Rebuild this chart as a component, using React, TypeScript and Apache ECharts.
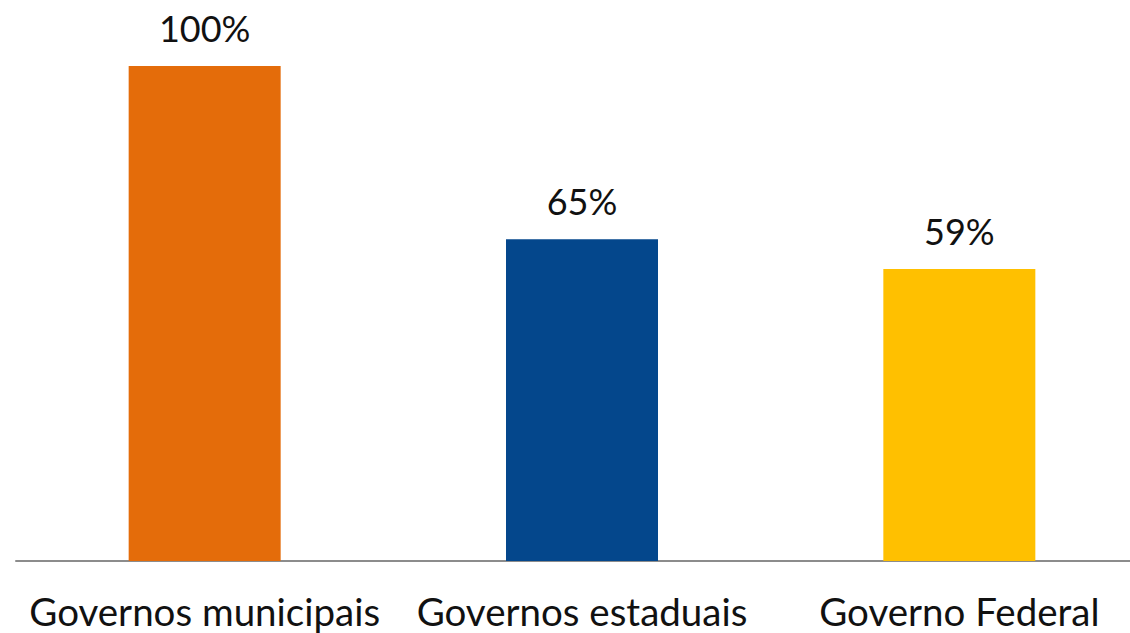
import React, { useEffect, useRef } from "react";
import * as echarts from "echarts";

const categories = ["Governos municipais", "Governos estaduais", "Governo Federal"];
const values = [100, 65, 59];
const colors = ["#E46C0A", "#04478C", "#FFC000"];

export default function App() {
  const ref = useRef<HTMLDivElement>(null);
  useEffect(() => {
    const chart = echarts.init(ref.current!, null, { renderer: "svg" });
    chart.setOption({
      animation: false,
      grid: { left: 16, top: 66, right: 2, bottom: 72, containLabel: false },
      xAxis: {
        type: "category",
        data: categories,
        axisLine: { lineStyle: { color: "#8c8c8c", width: 2 } },
        axisTick: { show: false },
        axisLabel: {
          interval: 0,
          hideOverlap: false,
          color: "#111",
          fontSize: 38.5,
          fontFamily: "Lato",
          margin: 30,
        },
      },
      yAxis: {
        type: "value",
        min: 0,
        max: 100,
        show: false,
        splitLine: { show: false },
      },
      series: [
        {
          type: "bar",
          barWidth: 152,
          data: values.map((v, i) => ({ value: v, itemStyle: { color: colors[i] } })),
          label: {
            show: true,
            position: "top",
            distance: 20,
            formatter: "{c}%",
            color: "#111",
            fontSize: 36,
            fontFamily: "Lato",
          },
        },
      ],
    });
    return () => chart.dispose();
  }, []);
  return (
    <div
      style={{ position: "absolute", left: 0, top: 0, width: 1130, height: 633, overflow: "hidden", background: "#fff" }}
    >
      <div ref={ref} style={{ width: 1150, height: 633 }} />
    </div>
  );
}
